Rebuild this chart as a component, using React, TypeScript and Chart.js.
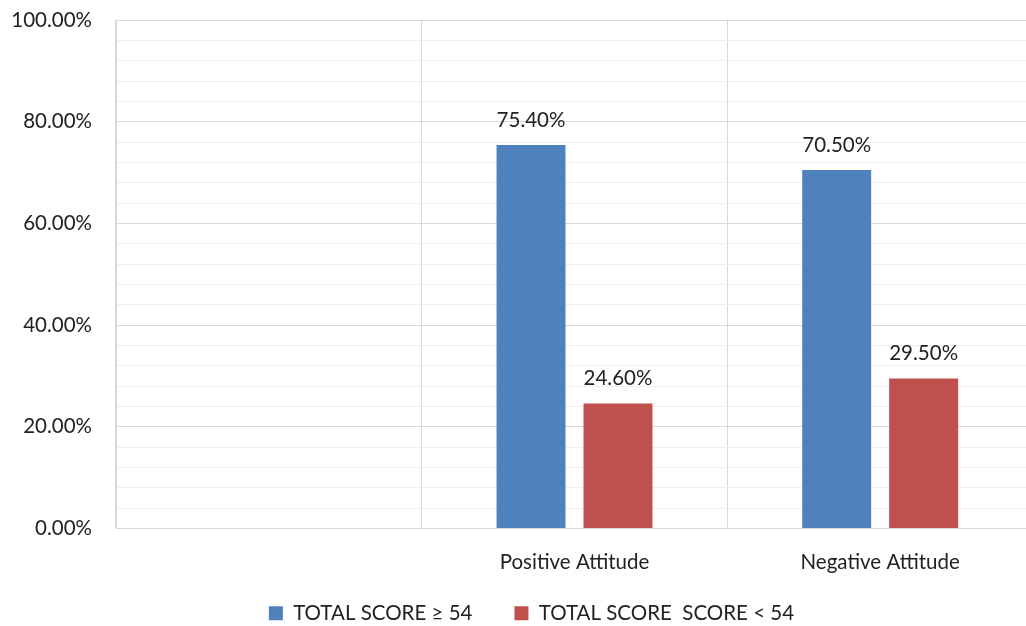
import React, { useEffect, useRef } from "react";
import { Chart, registerables } from "chart.js";

Chart.register(...registerables);

const categories = ["", "Positive Attitude", "Negative Attitude"];
const seriesNames = ["TOTAL SCORE ≥ 54", "TOTAL SCORE  SCORE < 54"];
const highScores: (number | null)[] = [null, 75.4, 70.5];
const lowScores: (number | null)[] = [null, 24.6, 29.5];
const seriesColors = ["#4F81BD", "#C0504D"];
const yMin = 0;
const yMax = 100;
const yStep = 4;
const yLabelEvery = 20;

const FONT = "Lato, 'Open Sans', sans-serif";
const FONT_SIZE = 20.5;

const valueLabels = {
  id: "valueLabels",
  afterDatasetsDraw(chart: any) {
    const ctx = chart.ctx;
    ctx.save();
    ctx.font = `${FONT_SIZE}px ${FONT}`;
    ctx.fillStyle = "#222222";
    ctx.textAlign = "center";
    ctx.textBaseline = "alphabetic";
    chart.data.datasets.forEach((ds: any, i: number) => {
      const meta = chart.getDatasetMeta(i);
      meta.data.forEach((el: any, j: number) => {
        const v = ds.data[j];
        if (v === null || v === undefined) return;
        ctx.fillText(v.toFixed(2) + "%", el.x, el.y - 18);
      });
    });
    ctx.restore();
  },
};

const placeLegend = {
  id: "placeLegend",
  beforeDraw(chart: any) {
    const lg = chart.legend;
    if (!lg) return;
    const h = lg.height;
    lg.left = 30;
    lg.right = 1033;
    lg.top = 561;
    lg.bottom = 561 + h;
  },
};

export default function App() {
  const ref = useRef<HTMLCanvasElement | null>(null);

  useEffect(() => {
    document.body.style.margin = "0";
    document.documentElement.style.overflow = "hidden";
    if (!ref.current) return;
    const chart = new Chart(ref.current, {
      type: "bar",
      data: {
        labels: categories,
        datasets: [
          {
            label: seriesNames[0],
            data: highScores,
            backgroundColor: seriesColors[0],
            categoryPercentage: 0.569,
            barPercentage: 0.793,
          },
          {
            label: seriesNames[1],
            data: lowScores,
            backgroundColor: seriesColors[1],
            categoryPercentage: 0.569,
            barPercentage: 0.793,
          },
        ],
      },
      options: {
        responsive: false,
        animation: false,
        layout: { padding: { left: 0, right: 7, top: 20, bottom: 0 } },
        plugins: {
          tooltip: { enabled: false },
          legend: {
            position: "bottom",
            labels: {
              boxWidth: 14,
              boxHeight: 14,
              padding: 42,
              color: "#222222",
              font: { family: FONT, size: FONT_SIZE },
            },
          },
        },
        scales: {
          x: {
            grid: {
              offset: true,
              color: "#D9D9D9",
              drawTicks: false,
            },
            border: { color: "#D9D9D9" },
            ticks: {
              color: "#222222",
              font: { family: FONT, size: FONT_SIZE },
              padding: 22,
              maxRotation: 0,
            },
            afterFit(scale: any) {
              scale.height = 50;
            },
          },
          y: {
            min: yMin,
            max: yMax,
            grid: {
              drawTicks: false,
              color: (c: any) =>
                Math.round(c.tick.value) % yLabelEvery === 0 ? "#D9D9D9" : "#EFEFEF",
            },
            border: { color: "#D9D9D9" },
            ticks: {
              stepSize: yStep,
              autoSkip: false,
              color: "#222222",
              font: { family: FONT, size: FONT_SIZE },
              padding: 24,
              callback: (v: any) =>
                Math.round(v) % yLabelEvery === 0 ? Number(v).toFixed(2) + "%" : "",
            },
            afterFit(scale: any) {
              scale.width = 116;
              scale.paddingTop = 0;
              scale.paddingBottom = 0;
            },
          },
        },
      },
      plugins: [valueLabels, placeLegend],
    });
    return () => chart.destroy();
  }, []);

  return (
    <div style={{ width: 1026, height: 626, overflow: "hidden", position: "relative" }}>
      <canvas ref={ref} width={1040} height={651} />
    </div>
  );
}
